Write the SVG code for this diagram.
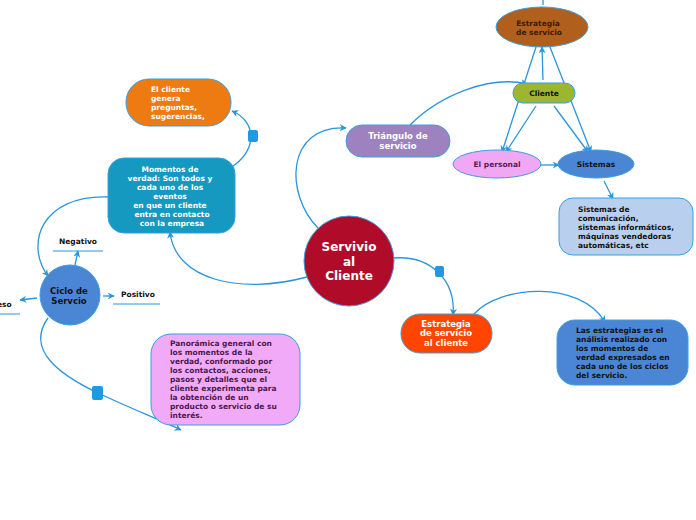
<svg xmlns="http://www.w3.org/2000/svg" width="696" height="520" viewBox="0 0 696 520">
<defs>
<marker id="ah" viewBox="0 0 10 10" refX="9" refY="5" markerWidth="7" markerHeight="7" orient="auto" markerUnits="userSpaceOnUse">
<path d="M0,0 L10,5 L0,10 L3,5 Z" fill="#2a95dd"/>
</marker>
<style>
.c{fill:none;stroke:#2a95dd;stroke-width:1.3}
.n{stroke:#3a9ee0;stroke-width:1}
.t{font-family:"DejaVu Sans","Liberation Sans",sans-serif;font-weight:bold;font-size:7.5px}
.sq{fill:#1e9be0}
</style>
</defs>
<rect width="696" height="520" fill="#ffffff"/>
<g id="connectors">
<path class="c" d="M318,228 C285,195 285,125 346,128" marker-end="url(#ah)"/>
<path class="c" d="M410,125 C440,95 490,75 527,84" marker-end="url(#ah)"/>
<path class="c" d="M543,0 L543,5"/>
<path class="c" d="M543,80 L542,47" marker-end="url(#ah)"/>
<path class="c" d="M536,47 L502,152" marker-end="url(#ah)"/>
<path class="c" d="M536,106 L506,152" marker-end="url(#ah)"/>
<path class="c" d="M550,47 L591,152" marker-end="url(#ah)"/>
<path class="c" d="M554,106 L588,152" marker-end="url(#ah)"/>
<path class="c" d="M541,165 L559,165" marker-end="url(#ah)"/>
<path class="c" d="M604,181 L613,199" marker-end="url(#ah)"/>
<path class="c" d="M394,258 C430,255 456,280 453,315" marker-end="url(#ah)"/>
<path class="c" d="M474,314 C500,285 580,280 605,322" marker-end="url(#ah)"/>
<path class="c" d="M307,277 C240,295 175,280 170,232" marker-end="url(#ah)"/>
<path class="c" d="M230,168 C257,152 258,122 232,111" marker-end="url(#ah)"/>
<path class="c" d="M108,197 C40,195 25,245 48,276" marker-end="url(#ah)"/>
<path class="c" d="M75,265 L78,251" marker-end="url(#ah)"/>
<path class="c" d="M103,296 L114,296" marker-end="url(#ah)"/>
<path class="c" d="M37,298 L20,300" marker-end="url(#ah)"/>
<path class="c" d="M48,318 C25,350 60,375 98,393 C130,408 160,420 181,430" marker-end="url(#ah)"/>
<rect class="sq" x="248" y="130" width="10" height="12" rx="2"/>
<rect class="sq" x="435" y="266" width="9" height="11" rx="2"/>
<rect class="sq" x="92" y="386" width="11" height="14" rx="2"/>
</g>
<g id="central">
<circle class="n" cx="349" cy="261" r="45" fill="#b00c2a"/>
<text class="t" x="349" y="251" font-size="12" fill="#fff" text-anchor="middle" style="font-size:12px">Servivio</text>
<text class="t" x="349" y="266" fill="#fff" text-anchor="middle" style="font-size:12px">al</text>
<text class="t" x="349" y="280" fill="#fff" text-anchor="middle" style="font-size:12px">Cliente</text>
</g>
<g id="triangulo">
<rect class="n" x="346" y="125" width="104" height="32" rx="16" fill="#9e82c0"/>
<text class="t" x="398" y="139" fill="#fff" text-anchor="middle" style="font-size:8.5px">Triángulo de</text>
<text class="t" x="398" y="149" fill="#fff" text-anchor="middle" style="font-size:8.5px">servicio</text>
</g>
<g id="estrategia-servicio">
<ellipse class="n" cx="542" cy="27" rx="46" ry="20" fill="#b0601c"/>
<text class="t" x="538" y="26" fill="#3a1a05" text-anchor="middle">Estrategia</text>
<text class="t" x="539" y="35" fill="#3a1a05" text-anchor="middle">de servicio</text>
</g>
<g id="cliente">
<rect class="n" x="513" y="83" width="62" height="20" rx="10" fill="#9db62f"/>
<text class="t" x="544" y="96" fill="#111" text-anchor="middle">Cliente</text>
</g>
<g id="personal">
<ellipse class="n" cx="497" cy="164" rx="44" ry="14" fill="#f0a8f5"/>
<text class="t" x="497" y="167" fill="#5a1a5a" text-anchor="middle">El personal</text>
</g>
<g id="sistemas">
<ellipse class="n" cx="596" cy="164" rx="38" ry="14" fill="#4a86d4"/>
<text class="t" x="596" y="167" fill="#111" text-anchor="middle">Sistemas</text>
</g>
<g id="sistemas-desc">
<rect class="n" x="559" y="198" width="134" height="57" rx="14" fill="#b8cfee"/>
<text class="t" x="578" y="212" fill="#111">Sistemas de</text>
<text class="t" x="578" y="221" fill="#111">comunicación,</text>
<text class="t" x="578" y="230" fill="#111">sistemas informáticos,</text>
<text class="t" x="578" y="239" fill="#111">máquinas vendedoras</text>
<text class="t" x="578" y="248" fill="#111">automáticas, etc</text>
</g>
<g id="cliente-genera">
<rect class="n" x="126" y="79" width="105" height="47" rx="23" fill="#ee7a12"/>
<text class="t" x="151" y="92" fill="#fff">El cliente</text>
<text class="t" x="151" y="101" fill="#fff">genera</text>
<text class="t" x="151" y="110" fill="#fff">preguntas,</text>
<text class="t" x="151" y="119" fill="#fff">sugerencias,</text>
</g>
<g id="momentos">
<rect class="n" x="108" y="158" width="127" height="75" rx="16" fill="#1599c0"/>
<text class="t" x="170" y="172" fill="#fff" text-anchor="middle">Momentos de</text>
<text class="t" x="170" y="181" fill="#fff" text-anchor="middle">verdad: Son todos y</text>
<text class="t" x="170" y="190" fill="#fff" text-anchor="middle">cada uno de los</text>
<text class="t" x="170" y="199" fill="#fff" text-anchor="middle">eventos</text>
<text class="t" x="170" y="208" fill="#fff" text-anchor="middle">en que un cliente</text>
<text class="t" x="172" y="217" fill="#fff" text-anchor="middle">entra en contacto</text>
<text class="t" x="172" y="226" fill="#fff" text-anchor="middle">con la empresa</text>
</g>
<g id="ciclo">
<circle class="n" cx="70" cy="295" r="30" fill="#4a86d4"/>
<text class="t" x="69" y="294" fill="#111" text-anchor="middle" style="font-size:8.5px">Ciclo de</text>
<text class="t" x="69" y="304" fill="#111" text-anchor="middle" style="font-size:8.5px">Servcio</text>
</g>
<g id="negativo">
<text class="t" x="78" y="244" fill="#111" text-anchor="middle">Negativo</text>
<line x1="53" y1="251" x2="103" y2="251" stroke="#2a95dd" stroke-width="1"/>
</g>
<g id="positivo">
<text class="t" x="121" y="297" fill="#111">Positivo</text>
<line x1="113" y1="304" x2="160" y2="304" stroke="#2a95dd" stroke-width="1"/>
</g>
<g id="proceso">
<text class="t" x="-3" y="307" fill="#111">eso</text>
<line x1="0" y1="314" x2="20" y2="314" stroke="#2a95dd" stroke-width="1"/>
</g>
<g id="panoramica">
<rect class="n" x="151" y="334" width="149" height="91" rx="20" fill="#f0aaf8"/>
<text class="t" x="170" y="346" fill="#4a1a4a">Panorámica general con</text>
<text class="t" x="170" y="355" fill="#4a1a4a">los momentos de la</text>
<text class="t" x="170" y="364" fill="#4a1a4a">verdad, conformado por</text>
<text class="t" x="170" y="373" fill="#4a1a4a">los contactos, acciones,</text>
<text class="t" x="170" y="382" fill="#4a1a4a">pasos y detalles que el</text>
<text class="t" x="170" y="391" fill="#4a1a4a">cliente experimenta para</text>
<text class="t" x="170" y="400" fill="#4a1a4a">la obtención de un</text>
<text class="t" x="170" y="409" fill="#4a1a4a">producto o servicio de su</text>
<text class="t" x="170" y="418" fill="#4a1a4a">interés.</text>
</g>
<g id="estrategia-cliente">
<rect class="n" x="401" y="314" width="91" height="39" rx="19" fill="#ff4500"/>
<text class="t" x="446" y="327" fill="#fff" text-anchor="middle" style="font-size:8.5px">Estrategia</text>
<text class="t" x="446" y="336" fill="#fff" text-anchor="middle" style="font-size:8.5px">de servicio</text>
<text class="t" x="446" y="346" fill="#fff" text-anchor="middle" style="font-size:8.5px">al cliente</text>
</g>
<g id="estrategias-desc">
<rect class="n" x="557" y="320" width="131" height="65" rx="18" fill="#4a86d4"/>
<text class="t" x="576" y="333" fill="#111">Las estrategias es el</text>
<text class="t" x="576" y="342" fill="#111">análisis realizado con</text>
<text class="t" x="576" y="351" fill="#111">los momentos de</text>
<text class="t" x="576" y="360" fill="#111">verdad expresados en</text>
<text class="t" x="576" y="369" fill="#111">cada uno de los ciclos</text>
<text class="t" x="576" y="378" fill="#111">del servicio.</text>
</g>
</svg>
